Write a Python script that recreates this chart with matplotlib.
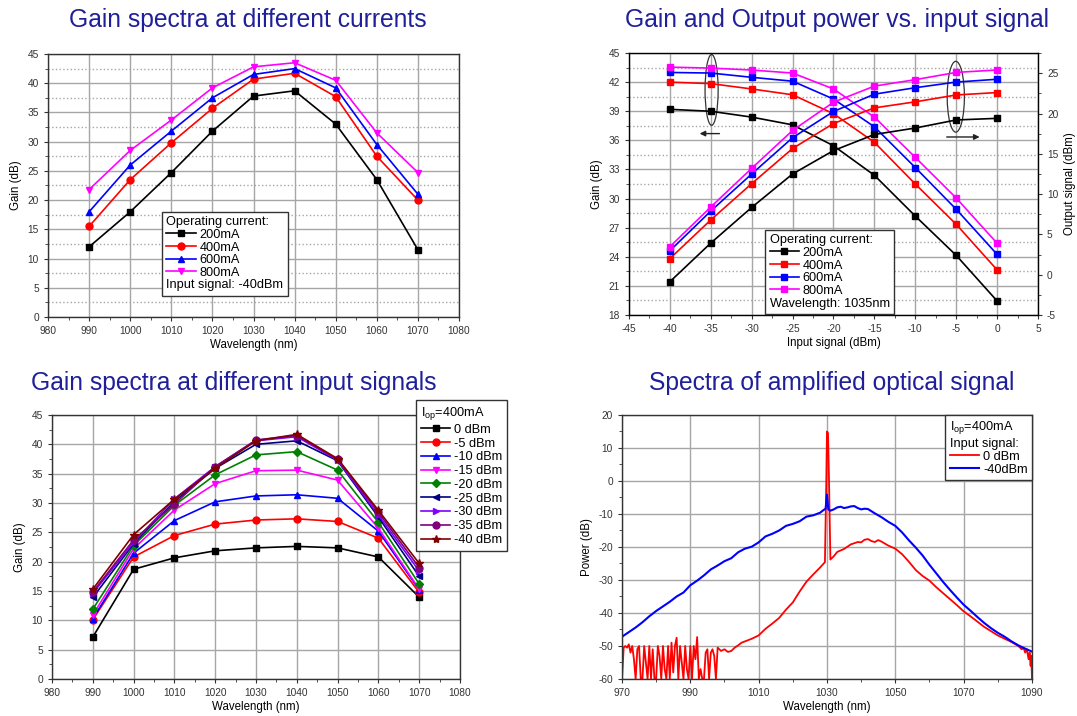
import matplotlib
matplotlib.use("Agg")
import matplotlib.pyplot as plt
import numpy as np
from matplotlib.patches import Ellipse
from matplotlib.ticker import MultipleLocator

plt.rcParams['font.family'] = ['Liberation Sans', 'DejaVu Sans']
plt.rcParams['mathtext.fontset'] = 'custom'
plt.rcParams['mathtext.rm'] = 'Liberation Sans'
plt.rcParams['axes.unicode_minus'] = False

# ---------- data: gain vs wavelength for different currents ----------
wl = [990, 1000, 1010, 1020, 1030, 1040, 1050, 1060, 1070]
currents = ["200mA", "400mA", "600mA", "800mA"]
gain_200 = [12.0, 18.0, 24.7, 31.8, 37.8, 38.7, 33.0, 23.5, 11.5]
gain_400 = [15.5, 23.5, 29.8, 35.7, 40.7, 41.7, 37.7, 27.5, 20.0]
gain_600 = [18.0, 26.0, 31.8, 37.5, 41.5, 42.5, 39.2, 29.5, 21.0]
gain_800 = [21.8, 28.5, 33.7, 39.2, 42.8, 43.5, 40.5, 31.5, 24.7]

# ---------- data: gain / output power vs input signal ----------
pin = [-40, -35, -30, -25, -20, -15, -10, -5, 0]
g_in_200 = [39.2, 39.0, 38.4, 37.6, 35.45, 32.4, 28.2, 24.15, 19.45]
g_in_400 = [42.0, 41.85, 41.3, 40.7, 38.75, 35.8, 31.5, 27.35, 22.65]
g_in_600 = [43.0, 42.94, 42.5, 42.1, 40.26, 37.4, 33.2, 28.9, 24.25]
g_in_800 = [43.55, 43.45, 43.25, 42.94, 41.3, 38.4, 34.25, 30.06, 25.4]
pout_200 = [-0.87, 3.93, 8.35, 12.5, 15.4, 17.4, 18.2, 19.2, 19.4]
pout_400 = [2.0, 6.8, 11.3, 15.66, 18.76, 20.7, 21.45, 22.3, 22.6]
pout_600 = [2.97, 7.9, 12.5, 17.0, 20.25, 22.4, 23.2, 23.9, 24.25]
pout_800 = [3.47, 8.4, 13.2, 17.9, 21.4, 23.4, 24.2, 25.1, 25.4]

# ---------- data: gain spectra at different input signals (Iop=400mA) ----------
sig_labels = ["0 dBm", "-5 dBm", "-10 dBm", "-15 dBm", "-20 dBm",
              "-25 dBm", "-30 dBm", "-35 dBm", "-40 dBm"]
gs_0 = [7.15, 18.7, 20.65, 21.85, 22.35, 22.6, 22.35, 20.8, 13.95]
gs_5 = [10.1, 20.8, 24.45, 26.4, 27.1, 27.3, 26.85, 24.0, 14.75]
gs_10 = [10.3, 21.45, 27.0, 30.2, 31.2, 31.4, 30.8, 25.2, 15.2]
gs_15 = [10.9, 22.2, 28.8, 33.3, 35.5, 35.6, 33.9, 25.7, 15.3]
gs_20 = [11.9, 22.75, 29.6, 34.8, 38.2, 38.75, 35.6, 26.7, 16.2]
gs_25 = [13.9, 23.05, 30.25, 35.9, 40.0, 40.6, 37.2, 27.6, 17.5]
gs_30 = [14.6, 23.3, 30.7, 36.2, 40.6, 41.3, 37.3, 27.95, 18.4]
gs_35 = [14.85, 23.7, 29.8, 36.2, 40.75, 41.5, 37.45, 28.4, 19.0]
gs_40 = [15.3, 24.6, 30.65, 35.9, 40.6, 41.7, 37.55, 28.75, 19.7]

# ---------- data: optical spectra ----------
spec_wl_40 = [970, 972, 974, 976, 978, 980, 982, 984, 986, 988, 990, 992, 994, 996,
              998, 1000, 1002, 1004, 1006, 1008, 1010, 1012, 1014, 1016, 1018, 1020,
              1022, 1024, 1026, 1028, 1029, 1029.6, 1030.0, 1030.4, 1031, 1032, 1033,
              1034, 1035, 1036, 1037, 1038, 1039, 1040, 1041, 1042, 1044, 1046, 1048,
              1050, 1052, 1054, 1056, 1058, 1060, 1062, 1064, 1066, 1068, 1070, 1072,
              1074, 1076, 1078, 1080, 1082, 1084, 1086, 1088, 1090]
spec_p_40 = [-47.2, -45.8, -44.4, -42.8, -41.0, -39.4, -38.0, -36.6, -35.0, -33.8,
             -31.6, -30.2, -28.6, -26.8, -25.6, -24.3, -23.4, -21.6, -20.5, -19.9,
             -18.6, -16.8, -16.0, -15.0, -13.6, -13.0, -12.2, -10.8, -10.4, -9.6,
             -8.8, -8.4, -4.1, -8.6, -9.0, -8.6, -8.0, -7.8, -8.2, -8.0, -7.7, -7.6,
             -8.2, -8.6, -8.4, -8.5, -9.8, -11.0, -12.4, -13.6, -15.6, -18.0, -20.2,
             -22.6, -25.4, -28.0, -30.6, -33.0, -35.3, -37.5, -39.3, -41.2, -43.0,
             -44.6, -46.0, -47.2, -48.6, -49.8, -50.8, -51.7]
spec_wl_0 = [970.0, 970.5, 971.0, 971.5, 972.0, 972.5, 973.0, 973.5, 974.0, 974.5,
             975.0, 975.5, 976.0, 976.5, 977.0, 977.5, 978.0, 978.5, 979.0, 979.5,
             980.0, 980.5, 981.0, 981.5, 982.0, 982.5, 983.0, 983.5, 984.0, 984.5,
             985.0, 985.5, 986.0, 986.5, 987.0, 987.5, 988.0, 988.5, 989.0, 989.5,
             990.0, 990.5, 991.0, 991.5, 992.0, 992.5, 993.0, 993.5, 994.0, 994.5,
             995.0, 995.5, 996.0, 996.5, 997.0, 997.5, 998.0, 999, 1000, 1001, 1002,
             1003, 1004, 1005, 1006, 1008, 1010, 1012, 1014, 1016, 1018, 1020, 1022,
             1024, 1026, 1028, 1029.4, 1029.8, 1030.0, 1030.3, 1030.6, 1031.0, 1032,
             1033, 1035, 1037, 1039, 1040, 1041, 1042, 1043, 1044, 1045, 1046, 1048,
             1050, 1052, 1054, 1056, 1058, 1060, 1062, 1064, 1066, 1068, 1070, 1072,
             1074, 1076, 1078, 1080, 1082, 1084, 1086, 1087, 1087.5, 1088, 1088.5,
             1089, 1089.3, 1089.6, 1089.8, 1090]
spec_p_0 = [-60, -50.5, -50, -50.5, -49.5, -52, -50, -54, -60, -51,
            -50, -60, -60, -50, -55, -60, -50, -60, -51, -60,
            -60, -50, -53, -60, -50, -57, -60, -50, -60, -49,
            -58, -50, -47.5, -60, -50, -55, -60, -50, -57, -60,
            -50, -60, -50, -54, -47.3, -60, -57, -60, -60, -52,
            -51, -60, -52, -51, -53, -60, -50.5, -51.5, -51.0, -51.8, -51.5,
            -50.5, -49.8, -49.0, -48.6, -47.8, -46.8, -44.8, -43.2, -41.5, -39.0,
            -36.8, -33.5, -30.5, -28.3, -26.2, -24.6, 0.0, 15.0, 14.5, 0.0, -23.8,
            -22.8, -21.5, -20.6, -19.2, -18.5, -18.6, -17.8, -17.6, -18.2, -18.5,
            -17.9, -18.4, -19.6, -20.5, -22.2, -24.5, -27.0, -28.8, -30.2, -32.2,
            -34.0, -35.8, -37.6, -39.5, -41.0, -42.6, -44.2, -45.5, -46.8, -47.8,
            -48.8, -50.0, -51.0, -50.5, -52.0, -51.0, -54.0, -52.0, -56.0, -53.0, -60.0]

title_color = '#1f1f99'
grid_color = '#a6a6a6'
tick_fs = 7.3
label_fs = 8.3
leg_fs = 9.2

fig = plt.figure(figsize=(10.77, 7.16), dpi=100)


def style_axes(ax):
    ax.grid(True, which='major', color=grid_color, linewidth=1.0)
    ax.set_axisbelow(True)
    ax.tick_params(which='both', direction='out', labelsize=tick_fs, colors='#333333')
    ax.tick_params(which='major', length=3)
    ax.tick_params(which='minor', length=2)
    for s in ax.spines.values():
        s.set_color('#333333')
        s.set_linewidth(1.0)


def make_legend(ax, handles, labels, title, extra, spacing=0.05, **kw):
    leg = ax.legend(handles, labels, title=title, fontsize=leg_fs, title_fontsize=leg_fs,
                    alignment='left', fancybox=False, framealpha=1, edgecolor='#333333',
                    borderaxespad=0, labelspacing=spacing, handlelength=2.3,
                    handletextpad=0.3, borderpad=0.35, **kw)
    leg.get_frame().set_linewidth(1.0)
    if extra:
        # last row is a plain text line without handle
        col = leg._legend_handle_box.get_children()[0]
        col.get_children()[-1].get_children().pop(0)
    return leg


# ---------- top-left ----------
ax1 = fig.add_axes([0.0446, 0.5573, 0.3816, 0.3673])
style_axes(ax1)
tl_lines = []
for g, c, m in zip([gain_200, gain_400, gain_600, gain_800],
                   ['black', 'red', 'blue', 'magenta'], ['s', 'o', '^', 'v']):
    ln, = ax1.plot(wl, g, color=c, marker=m, markersize=5, linewidth=1.2)
    tl_lines.append(ln)
ax1.set_xlim(980, 1080)
ax1.set_ylim(0, 45)
ax1.xaxis.set_major_locator(MultipleLocator(10))
ax1.xaxis.set_minor_locator(MultipleLocator(5))
ax1.yaxis.set_major_locator(MultipleLocator(5))
ax1.yaxis.set_minor_locator(MultipleLocator(2.5))
ax1.grid(True, which='minor', axis='y', color=grid_color, linestyle=':', linewidth=1.0)
ax1.set_xlabel("Wavelength (nm)", fontsize=label_fs, labelpad=2)
ax1.set_ylabel("Gain (dB)", fontsize=label_fs, labelpad=4)
blank, = ax1.plot([], [], color='none')
make_legend(ax1, tl_lines + [blank], currents + ["Input signal: -40dBm"],
            "Operating current:", True, loc='lower left', bbox_to_anchor=(0.277, 0.08))

# ---------- top-right ----------
ax2 = fig.add_axes([0.584, 0.56, 0.3798, 0.3659])
style_axes(ax2)
ax2r = ax2.twinx()
tr_lines = []
for g, p, c in zip([g_in_200, g_in_400, g_in_600, g_in_800],
                   [pout_200, pout_400, pout_600, pout_800],
                   ['black', 'red', 'blue', 'magenta']):
    ln, = ax2.plot(pin, g, color=c, marker='s', markersize=5, linewidth=1.2)
    ax2r.plot(pin, p, color=c, marker='s', markersize=5, linewidth=1.2)
    tr_lines.append(ln)
ax2.set_xlim(-45, 5)
ax2.set_ylim(18, 45)
ax2.xaxis.set_major_locator(MultipleLocator(5))
ax2.xaxis.set_minor_locator(MultipleLocator(2.5))
ax2.yaxis.set_major_locator(MultipleLocator(3))
ax2.yaxis.set_minor_locator(MultipleLocator(1.5))
ax2.grid(True, which='minor', axis='y', color=grid_color, linestyle=':', linewidth=1.0)
ax2r.set_ylim(-5, 27.5)
ax2r.yaxis.set_major_locator(MultipleLocator(5))
ax2r.yaxis.set_minor_locator(MultipleLocator(2.5))
ax2r.tick_params(which='both', direction='out', labelsize=tick_fs, colors='#333333')
ax2r.tick_params(which='major', length=3)
ax2r.tick_params(which='minor', length=2)
ax2.set_xlabel("Input signal (dBm)", fontsize=label_fs, labelpad=2)
ax2.set_ylabel("Gain (dB)", fontsize=label_fs, labelpad=4)
ax2r.set_ylabel("Output signal (dBm)", fontsize=label_fs, labelpad=4)
ax2.add_patch(Ellipse((-34.9, 41.2), 1.6, 7.3, fill=False, edgecolor='#333333', lw=0.9))
ax2.add_patch(Ellipse((-5.05, 40.5), 2.1, 7.3, fill=False, edgecolor='#333333', lw=0.9))
ax2.annotate('', xy=(-36.7, 36.7), xytext=(-33.6, 36.7),
             arrowprops=dict(arrowstyle='-|>', color='#222222', lw=1.0, mutation_scale=8))
ax2.annotate('', xy=(-1.8, 36.35), xytext=(-6.5, 36.35),
             arrowprops=dict(arrowstyle='-|>', color='#222222', lw=1.0, mutation_scale=8))
blank2, = ax2.plot([], [], color='none')
make_legend(ax2r, tr_lines + [blank2], currents + ["Wavelength: 1035nm"],
            "Operating current:", True, loc='lower left', bbox_to_anchor=(0.333, 0.004))

# ---------- bottom-left ----------
ax3 = fig.add_axes([0.0483, 0.0517, 0.3788, 0.3687])
style_axes(ax3)
bl_lines = []
for g, c, m in zip([gs_0, gs_5, gs_10, gs_15, gs_20, gs_25, gs_30, gs_35, gs_40],
                   ['black', 'red', 'blue', 'magenta', '#008000', '#000080',
                    '#8000ff', '#800080', '#800000'],
                   ['s', 'o', '^', 'v', 'D', '<', '>', 'o', '*']):
    ms = 6 if m == '*' else (4.5 if m == 'D' else 5)
    ln, = ax3.plot(wl, g, color=c, marker=m, markersize=ms, linewidth=1.2)
    bl_lines.append(ln)
ax3.set_xlim(980, 1080)
ax3.set_ylim(0, 45)
ax3.xaxis.set_major_locator(MultipleLocator(10))
ax3.xaxis.set_minor_locator(MultipleLocator(5))
ax3.yaxis.set_major_locator(MultipleLocator(5))
ax3.yaxis.set_minor_locator(MultipleLocator(2.5))
ax3.set_xlabel("Wavelength (nm)", fontsize=label_fs, labelpad=2)
ax3.set_ylabel("Gain (dB)", fontsize=label_fs, labelpad=4)
make_legend(ax3, bl_lines, sig_labels, r"I$_{\mathregular{op}}$=400mA", False,
            spacing=0.14, loc='upper left', bbox_to_anchor=(0.893, 1.055))

# ---------- bottom-right ----------
ax4 = fig.add_axes([0.5775, 0.0517, 0.3807, 0.3687])
style_axes(ax4)
l0, = ax4.plot(spec_wl_0, spec_p_0, color='red', linewidth=1.3)
l40, = ax4.plot(spec_wl_40, spec_p_40, color='blue', linewidth=1.5)
ax4.set_xlim(970, 1090)
ax4.set_ylim(-60, 20)
ax4.set_xticks(np.arange(970, 1091, 20))
ax4.xaxis.set_minor_locator(MultipleLocator(10))
ax4.yaxis.set_major_locator(MultipleLocator(10))
ax4.yaxis.set_minor_locator(MultipleLocator(5))
ax4.set_xlabel("Wavelength (nm)", fontsize=label_fs, labelpad=2)
ax4.set_ylabel("Power (dB)", fontsize=label_fs, labelpad=4)
make_legend(ax4, [l0, l40], ["0 dBm", "-40dBm"],
            "I$_{\\mathregular{op}}$=400mA\nInput signal:", False,
            loc='upper right', bbox_to_anchor=(1.0, 1.0))

# ---------- titles ----------
fig.text(0.230, 0.972, "Gain spectra at different currents", ha='center', va='center',
         fontsize=17.7, color=title_color)
fig.text(0.777, 0.972, "Gain and Output power vs. input signal", ha='center', va='center',
         fontsize=17.7, color=title_color)
fig.text(0.217, 0.465, "Gain spectra at different input signals", ha='center', va='center',
         fontsize=17.7, color=title_color)
fig.text(0.772, 0.465, "Spectra of amplified optical signal", ha='center', va='center',
         fontsize=17.7, color=title_color)

fig.savefig("out.png", dpi=100)
